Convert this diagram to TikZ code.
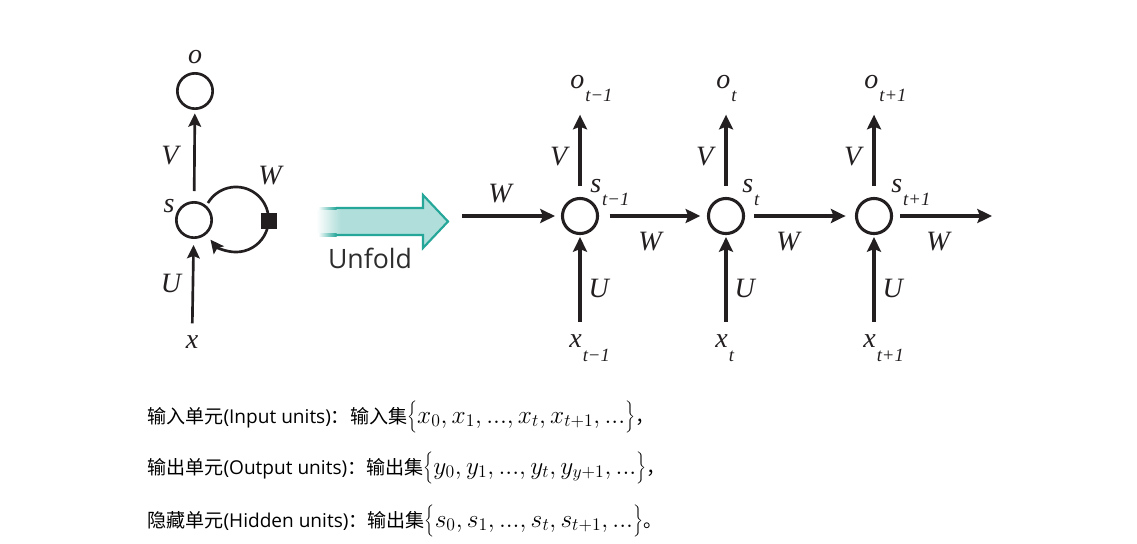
\RequirePackage{fix-cm}
\documentclass[tikz,border=0pt]{standalone}
\usepackage{fontspec}
\newfontfamily\cjk{Noto Sans CJK SC}
\newfontfamily\osans{Open Sans}
\newfontfamily\lab{Liberation Serif}
\usetikzlibrary{arrows.meta}
\definecolor{ink}{RGB}{35,31,32}
\definecolor{tealfill}{RGB}{176,222,218}
\definecolor{tealline}{RGB}{36,166,153}
\definecolor{unfoldtext}{RGB}{45,45,45}
\newcommand\dsub[1]{\kern0.8pt\raisebox{-10.3pt}{\fontsize{14}{15}\selectfont #1}}
\newcommand\bigbr[1]{$\left\{\rule[-6.8pt]{0pt}{22.5pt}#1\right\}$}
\begin{document}
\begin{tikzpicture}[x=0.75pt,y=-0.75pt,
  neuronL/.style={circle,draw=ink,line width=2pt,minimum size=26.5pt,inner sep=0pt},
  neuronR/.style={circle,draw=ink,line width=2.3pt,minimum size=26.3pt,inner sep=0pt},
  lbl/.style={text=ink,inner sep=0pt,font=\lab\itshape\fontsize{21}{24}\selectfont},
  sublbl/.style={lbl,anchor=base west},
  arrL/.style={draw=ink,line width=2pt,-{Stealth[length=10pt,width=9.5pt,inset=1.8pt]}},
  arrR/.style={draw=ink,line width=2.6pt,-{Stealth[length=11pt,width=10.5pt,inset=2pt]}},
  sqbox/.style={rectangle,fill=ink,minimum size=12.5pt,inner sep=0pt},
  txt/.style={anchor=base west,inner sep=0pt,font=\fontsize{14.3}{17}\selectfont}
]
\fill[white] (0,0) rectangle (1137,543);
\useasboundingbox (0,0) rectangle (1137,543);

% ---------- folded network ----------
\node[neuronL] (o0) at (195,91) {};
\node[neuronL] (s0) at (194,220) {};
\node[lbl] (lo0) at (195,57) {o};
\node[lbl] (lx0) at (192,342) {x};
\node[lbl] (lv0) at (170,156) {V};
\node[lbl] (lu0) at (171,283) {U};
\node[lbl] (ls0) at (169,206) {s};
\node[lbl] (lw0) at (270,176) {W};
\draw[arrL,shorten <=7.5pt,shorten >=2.5pt] (s0) -- (o0);
\draw[arrL,shorten <=9pt,shorten >=4.5pt] (lx0) -- (s0);
\coordinate (lc) at (236,219.5);
\draw[arrL] ([shift={(149.5:24.4pt)}]lc) arc[start angle=149.5,end angle=-141.7,radius=24.4pt];
\node[sqbox] (sq) at (269,221) {};

% ---------- unfold arrow ----------
\fill[tealfill] (340,208) -- (423,208) -- (423,195) -- (448,221.5) -- (423,248) -- (423,235) -- (340,235) -- cycle;
\shade[left color=white,right color=tealfill] (316,208) rectangle (340.5,235);
\draw[tealline,line width=1.6pt,line join=miter] (336,208) -- (423,208) -- (423,195) -- (448,221.5) -- (423,248) -- (423,235) -- (336,235);
\shade[left color=white,right color=tealline] (318,207) rectangle (336.5,209.2);
\shade[left color=white,right color=tealline] (318,233.8) rectangle (336.5,236);
\node[anchor=base,inner sep=0pt,text=unfoldtext,font=\osans\fontsize{20}{24}\selectfont] (unf) at (370,268) {Unfold};

% ---------- unfolded network ----------
\node[neuronR] (s1) at (580,216) {};
\node[neuronR] (s2) at (726,216) {};
\node[neuronR] (s3) at (874,216) {};
\coordinate (in) at (462,216);
\coordinate (out) at (992,216);

\node[sublbl] (o1) at (570,88) {o\dsub{t−1}};
\node[sublbl] (o2) at (716,88) {o\dsub{t}};
\node[sublbl] (o3) at (864,88) {o\dsub{t+1}};
\node[sublbl] (x1) at (569,347.5) {x\dsub{t−1}};
\node[sublbl] (x2) at (715,347.5) {x\dsub{t}};
\node[sublbl] (x3) at (863,347.5) {x\dsub{t+1}};
\node[sublbl] (ls1) at (590,192) {s\dsub{t−1}};
\node[sublbl] (ls2) at (742,192) {s\dsub{t}};
\node[sublbl] (ls3) at (891,192) {s\dsub{t+1}};

\foreach \i in {1,2,3}{
  \draw[arrR,shorten <=8.5pt,shorten >=20pt] (s\i) -- (s\i |- o\i.base);
  \draw[arrR,shorten <=19.5pt,shorten >=1.5pt] (s\i |- x\i.base) -- (s\i);
  \node[lbl] (lv\i) at ([xshift=-16pt]s\i |- 0,157) {V};
  \node[lbl] (lu\i) at ([xshift=14pt]s\i |- 0,288) {U};
}
\draw[arrR,shorten >=4.5pt] (in) -- (s1);
\draw[arrR,shorten <=8pt,shorten >=5pt] (s1) -- (s2);
\draw[arrR,shorten <=7pt,shorten >=7pt] (s2) -- (s3);
\draw[arrR,shorten <=5.5pt] (s3) -- (out);
\node[lbl] (lw1) at (500,194) {W};
\node[lbl] (lw2) at (650,242) {W};
\node[lbl] (lw3) at (788,242) {W};
\node[lbl] (lw4) at (938,242) {W};

% ---------- text lines ----------
\node[txt] (t1) at (147,423) {{\cjk 输入单元}{\osans (Input units)}{\cjk ：输入集}{\fontsize{19}{22}\selectfont\bigbr{x_0, x_1, ..., x_t, x_{t+1}, ...}}{\cjk ，}};
\node[txt] (t2) at (147,474) {{\cjk 输出单元}{\osans (Output units)}{\cjk ：输出集}{\fontsize{19}{22}\selectfont\bigbr{y_0, y_1, ..., y_t, y_{y+1}, ...}}{\cjk ，}};
\node[txt] (t3) at (147,527) {{\cjk 隐藏单元}{\osans (Hidden units)}{\cjk ：输出集}{\fontsize{19}{22}\selectfont\bigbr{s_0, s_1, ..., s_t, s_{t+1}, ...}}{\cjk 。}};
\end{tikzpicture}
\end{document}
